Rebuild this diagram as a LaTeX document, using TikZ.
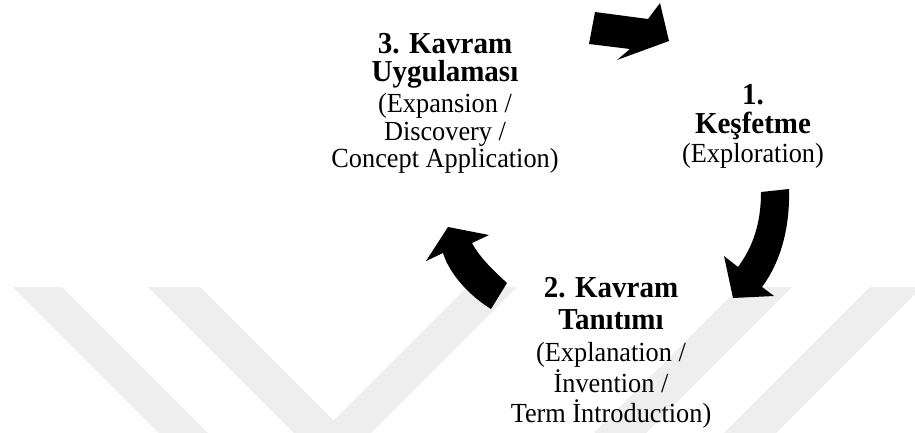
\documentclass[tikz,border=0pt]{standalone}
\usepackage{graphicx}
\usepackage{fontspec}
\setmainfont{Liberation Serif}
\definecolor{wmgray}{RGB}{238,238,238}
% slightly tall lettering used for all labels
\newcommand\talltext[1]{\scalebox{1}[1.05]{#1}}
\begin{document}
\begin{tikzpicture}[x=1pt,y=-1pt,
  band/.style={fill=wmgray,draw=none},
  bigarrow/.style={fill=black,draw=none},
  headline/.style={font=\fontsize{29}{29}\selectfont\bfseries,anchor=base,inner sep=0pt},
  subline/.style={font=\fontsize{26.3}{26}\selectfont,anchor=base,inner sep=0pt}]
\useasboundingbox (0,0) rectangle (915,433);
\fill[white] (0,0) rectangle (915,433);

% light diagonal stripes in the background
\begin{scope}
  \clip (0,0) rectangle (915,433);
  \fill[band] (13,287) -- (62,287) -- (208,433) -- (159,433) -- cycle;
  \fill[band] (148,287) -- (200,287) -- (333.5,420.5) -- (467,287) -- (517,287)
              -- (371,433) -- (294,433) -- cycle;
  \fill[band] (740,287) -- (792,287) -- (646,433) -- (594,433) -- cycle;
  \fill[band] (870,287) -- (922,287) -- (776,433) -- (724,433) -- cycle;
\end{scope}

% step 3
\node[headline] (s3a) at (445,54)  {\talltext{3. Kavram}};
\node[headline] (s3b) at (445,82)  {\talltext{Uygulaması}};
\node[subline]  (s3c) at (445,113) {\talltext{(Expansion /}};
\node[subline]  (s3d) at (445,140) {\talltext{Discovery /}};
\node[subline]  (s3e) at (445,167) {\talltext{Concept Application)}};

% step 1
\node[headline] (s1a) at (753,105) {\talltext{1.}};
\node[headline] (s1b) at (753,133) {\talltext{Keşfetme}};
\node[subline]  (s1c) at (753,162) {\talltext{(Exploration)}};

% step 2
\node[headline] (s2a) at (611,297) {\talltext{2. Kavram}};
\node[headline] (s2b) at (611,329) {\talltext{Tanıtımı}};
\node[subline]  (s2c) at (611,361) {\talltext{(Explanation /}};
\node[subline]  (s2d) at (611,392) {\talltext{İnvention /}};
\node[subline]  (s2e) at (611,422) {\talltext{Term İntroduction)}};

% arrow from step 3 to step 1
\fill[bigarrow] (595,12) -- (648,19) -- (660,3) -- (669,41) -- (617,60)
  -- (630,49) -- (589,44) -- cycle;

% arrow from step 1 to step 2
\fill[bigarrow] (789,189) .. controls (790,225) and (782,260) .. (762,287)
  -- (774,296) -- (733,298) -- (724,256) -- (738,267)
  .. controls (752,248) and (761,225) .. (761,192) -- cycle;

% arrow from step 2 to step 3
\fill[bigarrow] (491,309) -- (507,283)
  .. controls (494,271) and (480,258) .. (472,243)
  -- (489,235) -- (448,227) -- (426,261) -- (443,253)
  .. controls (450,275) and (470,296) .. (491,309) -- cycle;
\end{tikzpicture}
\end{document}
